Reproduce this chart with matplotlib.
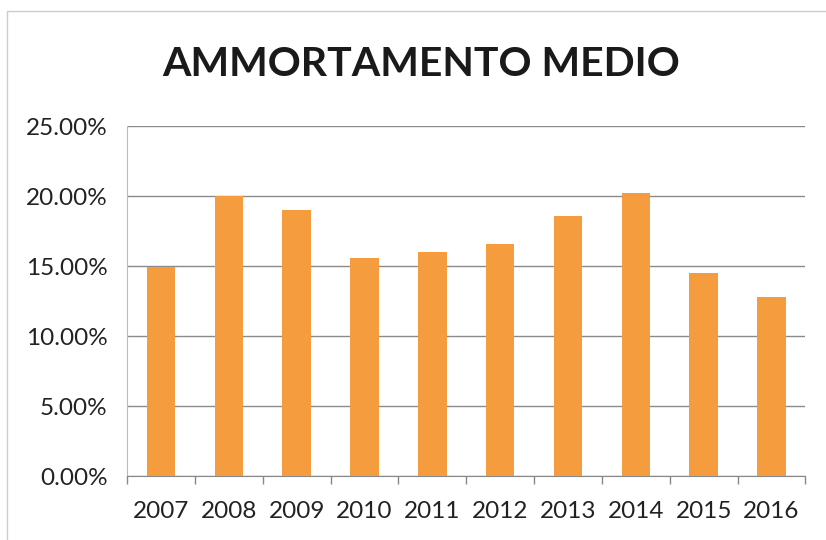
import matplotlib
matplotlib.use("Agg")
import matplotlib.pyplot as plt
import numpy as np
from matplotlib.ticker import FixedLocator, FuncFormatter
from matplotlib.patches import Rectangle

# data
years = ['2007', '2008', '2009', '2010', '2011', '2012', '2013', '2014', '2015', '2016']
ammortamento = [14.9, 20.0, 19.0, 15.6, 16.0, 16.6, 18.6, 20.2, 14.5, 12.8]
y_ticks = [0, 5, 10, 15, 20, 25]

bar_color = '#F49C3E'
grid_color = '#8a8a8a'

fig = plt.figure(figsize=(8.26, 5.4), dpi=100)
ax = fig.add_axes([0.154, 0.1185, 0.821, 0.648])

x = np.arange(len(years))
ax.bar(x, ammortamento, width=0.42, color=bar_color, zorder=3)

ax.set_xlim(-0.5, len(years) - 0.5)
ax.set_ylim(0, 25)
ax.set_yticks(y_ticks)
ax.yaxis.set_major_formatter(FuncFormatter(lambda v, p: '%.2f%%' % v))
ax.grid(axis='y', color=grid_color, linewidth=1.0, zorder=0)

# category labels at centres, tick marks at boundaries
ax.set_xticks(x)
ax.set_xticklabels(years)
ax.xaxis.set_minor_locator(FixedLocator(np.arange(-0.5, len(years), 1.0)))
ax.tick_params(axis='x', which='major', length=0, pad=18, labelsize=17.5, labelcolor='#222222')
ax.tick_params(axis='x', which='minor', length=6, color='#888888', width=1)
ax.tick_params(axis='y', length=0, pad=14, labelsize=17.5, labelcolor='#222222')

for side in ['top', 'right']:
    ax.spines[side].set_visible(False)
ax.spines['left'].set_color('#bbbbbb')
ax.spines['bottom'].set_color('#888888')

for lbl in ax.get_xticklabels() + ax.get_yticklabels():
    lbl.set_fontfamily('Lato')

fig.text(0.510, 0.88, 'AMMORTAMENTO MEDIO', ha='center', va='center',
         fontsize=29.5, fontweight='bold', family='Lato', color='#1a1a1a')

# faint outer frame of the chart area
fig.patches.append(Rectangle((0.009, -0.05), 1.2, 1.03, transform=fig.transFigure,
                             fill=False, edgecolor='#cccccc', linewidth=1))

fig.savefig('out.png', dpi=100, facecolor='white')
